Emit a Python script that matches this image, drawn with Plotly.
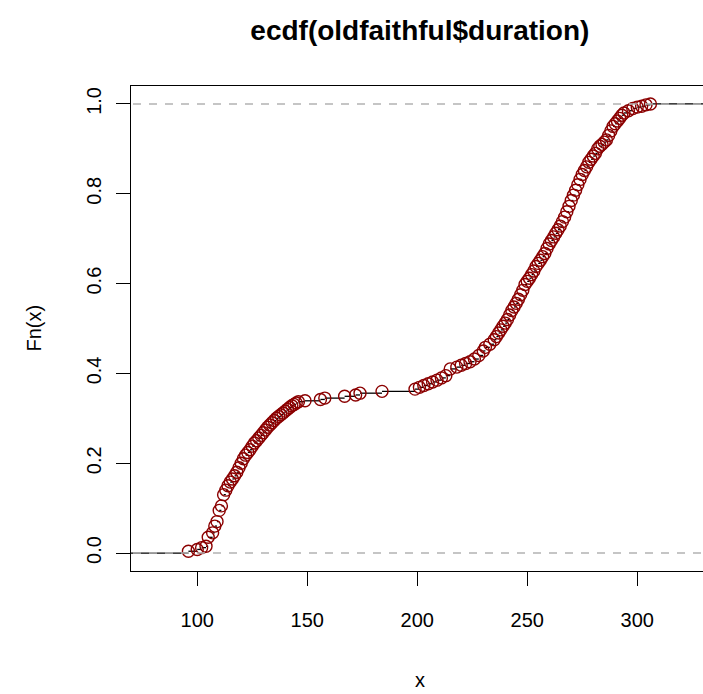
import plotly.graph_objects as go

# ECDF knots (duration values) and ECDF heights
knots = [96, 100, 102, 104, 105, 107, 108, 109, 110, 111, 112, 113, 114, 115, 116,
         117, 118, 119, 120, 121, 122, 123, 124, 125, 126, 127, 128, 129, 130, 131,
         132, 133, 134, 135, 136, 137, 138, 139, 140, 141, 142, 143, 144, 145, 146,
         149, 156, 158, 167, 172, 174, 184,
         199, 201, 203, 205, 207, 209, 211, 213, 215, 218, 220, 222, 224, 226, 228,
         230, 231, 233, 235, 236, 237, 238, 239, 240, 241, 242, 243, 244, 245, 246,
         247, 248, 249, 250, 251, 252, 253, 254, 255, 256, 257, 258, 259, 260, 261,
         262, 263, 264, 265, 266, 267, 268, 269, 270, 271, 272, 273, 274, 275, 276,
         277, 278, 279, 280, 281, 282, 283, 284, 285, 286, 287, 288, 289, 290, 291,
         292, 293, 294, 296, 298, 300, 302, 304, 306]
fn_vals = [0.004, 0.008, 0.012, 0.015, 0.035, 0.045, 0.060, 0.070, 0.095, 0.105, 0.130,
           0.140, 0.150, 0.158, 0.165, 0.172, 0.180, 0.190, 0.200, 0.210, 0.218, 0.224,
           0.230, 0.238, 0.245, 0.250, 0.256, 0.262, 0.268, 0.274, 0.280, 0.285, 0.290,
           0.295, 0.300, 0.304, 0.308, 0.312, 0.316, 0.320, 0.324, 0.328, 0.331, 0.334,
           0.337,
           0.339, 0.342, 0.345, 0.349, 0.352, 0.356, 0.360,
           0.365, 0.369, 0.373, 0.377, 0.381, 0.385, 0.390, 0.395, 0.410, 0.414, 0.418,
           0.422, 0.426, 0.432, 0.440, 0.450, 0.458, 0.465, 0.475, 0.482, 0.490, 0.497,
           0.505, 0.512, 0.520, 0.530, 0.540, 0.548, 0.556, 0.565, 0.575, 0.585, 0.598,
           0.605, 0.612, 0.620, 0.628, 0.638, 0.645, 0.652, 0.660, 0.667, 0.678, 0.688,
           0.696, 0.704, 0.712, 0.720, 0.728, 0.738, 0.748, 0.760, 0.772, 0.785, 0.797,
           0.808, 0.820, 0.832, 0.843, 0.852, 0.860, 0.870, 0.877, 0.884, 0.890, 0.900,
           0.906, 0.910, 0.915, 0.920, 0.930, 0.940, 0.950, 0.956, 0.962, 0.968, 0.975,
           0.980, 0.985, 0.990, 0.993, 0.995, 0.998, 1.000]

x_ticks = [100, 150, 200, 250, 300]
y_ticks = [0.0, 0.2, 0.4, 0.6, 0.8, 1.0]
y_tick_labels = ["0.0", "0.2", "0.4", "0.6", "0.8", "1.0"]

X_RANGE = [69.9, 329.9]
Y_RANGE = [-0.04, 1.04]

FONT = "Liberation Sans, Arial, sans-serif"

# horizontal step segments (no verticals), extended to the plot edges
seg_x, seg_y = [], []
left = [X_RANGE[0] - 50] + knots
right = knots + [X_RANGE[1] + 50]
levels = [0.0] + fn_vals
for a, b, lv in zip(left, right, levels):
    seg_x += [a, b, None]
    seg_y += [lv, lv, None]

fig = go.Figure()
fig.add_trace(go.Scatter(x=seg_x, y=seg_y, mode="lines",
                         line=dict(color="black", width=1.3),
                         hoverinfo="skip", showlegend=False))
fig.add_trace(go.Scatter(x=knots, y=fn_vals, mode="markers",
                         marker=dict(symbol="circle-open", size=12,
                                     color="#8B0000", line=dict(width=1.4, color="#8B0000")),
                         showlegend=False))
for h in (0.0, 1.0):
    fig.add_trace(go.Scatter(x=[X_RANGE[0] - 50, X_RANGE[1] + 50], y=[h, h], mode="lines",
                             line=dict(color="#B3B3B3", width=1.4, dash="8px,8px"),
                             hoverinfo="skip", showlegend=False))

fig.update_layout(
    width=703, height=694,
    margin=dict(l=131, r=0, t=86, b=123),
    paper_bgcolor="white", plot_bgcolor="white",
    font=dict(family=FONT, size=20, color="black"),
    title=dict(text="<b>ecdf(oldfaithful$duration)</b>", x=0.505, xref="paper",
               xanchor="center", y=1 - 30 / 694, yref="container", yanchor="middle",
               font=dict(family=FONT, size=28, color="black")),
    xaxis=dict(range=X_RANGE, tickvals=x_ticks, ticktext=[str(v) for v in x_ticks],
               showgrid=False, zeroline=False, showline=True, mirror=True,
               linecolor="black", linewidth=1.3, ticks="outside", ticklen=14,
               tickwidth=1.3, tickcolor="black", ticklabelstandoff=17,
               tickfont=dict(size=20)),
    yaxis=dict(range=Y_RANGE, tickvals=y_ticks, ticktext=y_tick_labels,
               showgrid=False, zeroline=False, showline=True, mirror=False,
               linecolor="black", linewidth=1.3, ticks="outside", ticklen=14,
               tickwidth=1.3, tickcolor="black", tickangle=-90, ticklabelstandoff=7,
               tickfont=dict(size=20)),
    annotations=[
        dict(text="x", xref="paper", yref="paper", x=0.505, y=0, yshift=-109,
             showarrow=False, xanchor="center", yanchor="middle", font=dict(size=20)),
        dict(text="Fn(x)", xref="paper", yref="paper", x=0, y=0.5, xshift=-98,
             showarrow=False, textangle=-90, xanchor="center", yanchor="middle",
             font=dict(size=20)),
    ],
)

fig.write_html("out.html")
